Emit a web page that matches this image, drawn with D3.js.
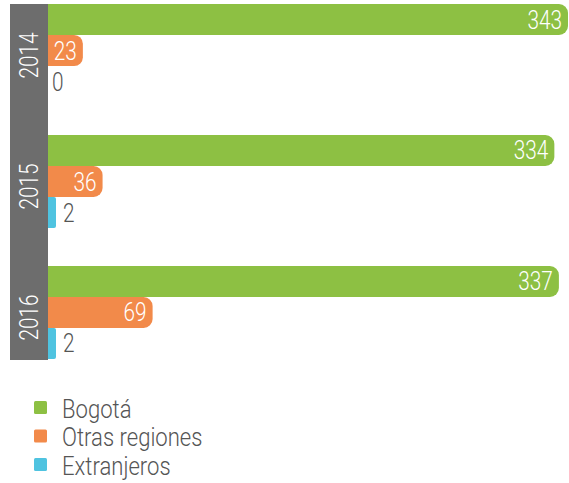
<!DOCTYPE html>
<html><head><meta charset="utf-8">
<script src="https://cdn.jsdelivr.net/npm/d3@7"></script>
<style>body{margin:0;background:#fff;} svg{display:block;font-family:Roboto, sans-serif;}</style>
</head><body>
<svg id="c" width="569" height="483"></svg>
<script>
const years = ["2014","2015","2016"];
const series = ["Bogotá","Otras regiones","Extranjeros"];
const bogota = [343,334,337];
const otras = [23,36,69];
const extranjeros = [0,2,2];
const colors = ["#8dc043","#f28a4a","#4fc3e0"];
const values = [bogota, otras, extranjeros];

const svg = d3.select("#c");
const x = d3.scaleLinear().domain([0,343]).range([48,568]);
const y0 = d3.scaleBand().domain(years).range([4,359]).paddingInner(0.29);
const y1 = d3.scaleBand().domain(series).range([0,y0.bandwidth()]);

svg.append("rect").attr("x",10).attr("y",4).attr("width",38).attr("height",356).attr("fill","#6d6d6d");

function barPath(x0,x1,yt,h,r){
  r=Math.min(r,(x1-x0)/4,h/2);
  return `M${x0},${yt}H${x1-r}A${r},${r} 0 0 1 ${x1},${yt+r}V${yt+h-r}A${r},${r} 0 0 1 ${x1-r},${yt+h}H${x0}Z`;
}

const cond = 0.8;
years.forEach((yr,i)=>{
  const g = svg.append("g");
  series.forEach((s,j)=>{
    const v = values[j][i];
    const yt = y0(yr)+y1(s), h = y1.bandwidth();
    let xe = x(v);
    if (v>0) xe = Math.max(xe, x(0)+8);
    if (v>0) g.append("path").attr("d",barPath(x(0),xe,yt,h,9)).attr("fill",colors[j]);
    const inside = v>10;
    const tx = inside ? xe-6 : (v>0? xe+7 : x(0)+4);
    g.append("text")
      .attr("transform",`translate(${tx},${yt+h/2+9}) scale(${cond},1)`)
      .attr("text-anchor", inside?"end":"start")
      .attr("font-size",26).attr("font-weight",300)
      .attr("fill", inside?"#fff":"#555")
      .text(v);
  });
  svg.append("text")
    .attr("transform",`translate(${29+9},${y0(yr)+y0.bandwidth()/2+5}) rotate(-90) scale(${cond},1)`)
    .attr("text-anchor","middle").attr("font-size",26).attr("font-weight",300)
    .attr("fill","#fff").text(yr);
});

const lg = svg.append("g");
series.forEach((s,j)=>{
  const cy = 407.5 + j*28.5;
  lg.append("rect").attr("x",34).attr("y",cy-6.5).attr("width",13).attr("height",13).attr("rx",1.5).attr("fill",colors[j]);
  lg.append("text").attr("transform",`translate(62,${cy+10.3}) scale(0.85,1)`)
    .attr("font-size",26).attr("font-weight",300).attr("fill","#555").text(s);
});
</script>
</body></html>
